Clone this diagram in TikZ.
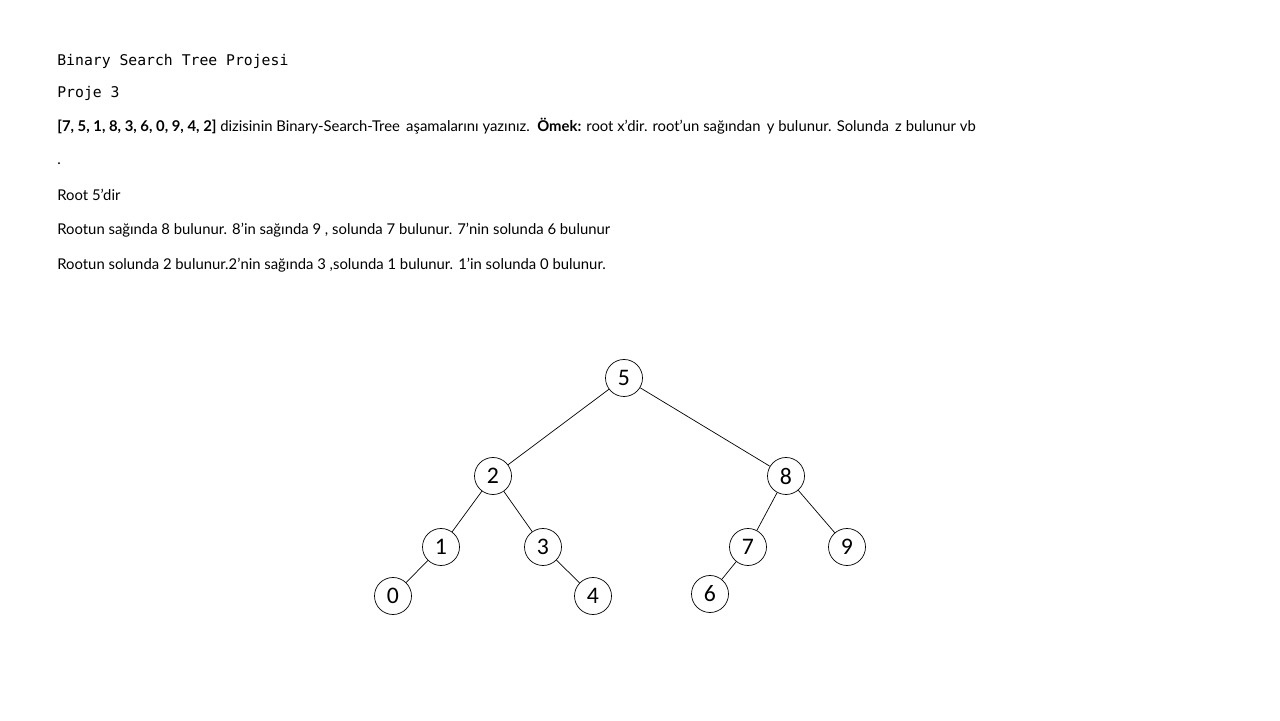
\documentclass[tikz,border=0pt]{standalone}
\usepackage{fontspec}
\setmainfont{Lato}
\setmonofont{DejaVu Sans Mono}
\newfontfamily\numfont{Carlito}
\usepackage{tikz}

\begin{document}
\begin{tikzpicture}[
  treenode/.style={circle, draw, thin, minimum size=0.74cm, inner sep=0pt, font=\numfont\fontsize{13.5}{15}\selectfont},
  txt/.style={anchor=base west, inner sep=0pt, font=\fontsize{8.45}{10}\selectfont},
  tt/.style={anchor=base west, inner sep=0pt, font=\ttfamily\fontsize{8.4}{10}\selectfont}
]
\useasboundingbox (0,0) rectangle (25.6,14.4);
% text lines
\node [tt] (title) at (1.14,13.08) {Binary Search Tree Projesi};
\node [tt] (proje) at (1.14,12.44) {Proje 3};
\node [txt] (soru) at (1.14,11.76) {\textbf{[7, 5, 1, 8, 3, 6, 0, 9, 4, 2]} dizisinin Binary-Search-Tree\, aşamalarını yazınız.\ \ \textbf{Ömek:} root x’dir. root’un sağından\, y bulunur. Solunda\, z bulunur vb};
\node [txt] (nokta) at (1.14,11.1) {.};
\node [txt] (kok) at (1.14,10.38) {Root 5’dir};
\node [txt] (sag) at (1.14,9.7) {Rootun sağında 8 bulunur. 8’in sağında 9 , solunda 7 bulunur. 7’nin solunda 6 bulunur};
\node [txt] (sol) at (1.14,9.0) {Rootun solunda 2 bulunur.2’nin sağında 3 ,solunda 1 bulunur. 1’in solunda 0 bulunur.};
% tree
\node [treenode] (n5) at (12.48,6.84) {5};
\node [treenode] (n2) at (9.86,4.88) {2};
\node [treenode] (n8) at (15.72,4.88) {8};
\node [treenode] (n1) at (8.82,3.46) {1};
\node [treenode] (n3) at (10.86,3.46) {3};
\node [treenode] (n7) at (14.96,3.46) {7};
\node [treenode] (n9) at (16.94,3.46) {9};
\node [treenode] (n0) at (7.86,2.48) {0};
\node [treenode] (n4) at (11.86,2.48) {4};
\node [treenode] (n6) at (14.2,2.52) {6};
\draw [thin] (n5) -- (n2);
\draw [thin] (n5) -- (n8);
\draw [thin] (n2) -- (n1);
\draw [thin] (n2) -- (n3);
\draw [thin] (n1) -- (n0);
\draw [thin] (n3) -- (n4);
\draw [thin] (n8) -- (n7);
\draw [thin] (n8) -- (n9);
\draw [thin] (n7) -- (n6);
\end{tikzpicture}
\end{document}
